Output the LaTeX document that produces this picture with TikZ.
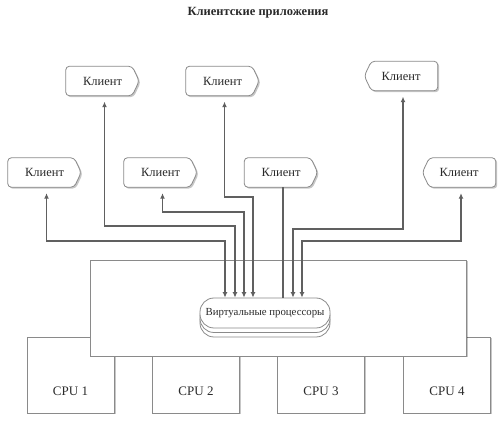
\documentclass[tikz,border=0pt]{standalone}
\usepackage{fontspec}
\setmainfont{Liberation Serif}
\usetikzlibrary{arrows.meta,shadows,calc}
\pgfdeclarelayer{background}
\pgfsetlayers{background,main}
\definecolor{edge}{HTML}{606060}
\definecolor{boxline}{HTML}{8A8A8A}
\definecolor{txt}{HTML}{2A2A2A}
\tikzset{
  softshadow/.style={drop shadow={shadow xshift=1.5pt,shadow yshift=-1.5pt,opacity=0.22,fill=black}},
  client/.style={minimum width=73pt,minimum height=29pt,inner sep=0pt,text=txt,
    font=\fontsize{12.5}{14}\selectfont},
  clientbox/.style={draw=boxline,line width=0.8pt,fill=white,rounded corners=3.5pt,softshadow},
  conn/.style={draw=edge,line width=1.7pt},
  biconn/.style={conn,{Latex[length=5.5pt,width=5pt]}-{Latex[length=5.5pt,width=5pt]},shorten <=6pt},
  cpubox/.style={draw=boxline,line width=0.8pt,fill=white,minimum width=87pt,minimum height=76pt,
    inner sep=0pt,softshadow},
  cpulabel/.style={font=\fontsize{13}{15}\selectfont,text=txt,yshift=-16pt},
  hostbox/.style={draw=boxline,line width=0.8pt,fill=white,minimum width=376pt,minimum height=96pt,
    inner sep=0pt,softshadow},
  vproc/.style={draw=boxline,line width=0.8pt,fill=white,rounded corners=14pt,minimum width=130pt,
    minimum height=30pt,inner sep=0pt,text=txt,font=\fontsize{10.8}{12}\selectfont,
    double copy shadow={shadow xshift=0pt,shadow yshift=-4.5pt}},
  titlestyle/.style={font=\bfseries\fontsize{12.5}{14}\selectfont,text=txt}
}
\newcommand\clientR[3]{%
  \node[client] (#1) at (#2,#3) {Клиент};
  \begin{pgfonlayer}{background}
  \draw[clientbox] (#1.north) -- (#1.north west) -- (#1.south west) -- ([xshift=-7pt]#1.south east)
    -- (#1.east) -- ([xshift=-7pt]#1.north east) -- cycle;
  \end{pgfonlayer}}
\newcommand\clientL[3]{%
  \node[client] (#1) at (#2,#3) {Клиент};
  \begin{pgfonlayer}{background}
  \draw[clientbox] (#1.north) -- (#1.north east) -- (#1.south east) -- ([xshift=7pt]#1.south west)
    -- (#1.west) -- ([xshift=7pt]#1.north west) -- cycle;
  \end{pgfonlayer}}
\begin{document}
\begin{tikzpicture}[x=1pt,y=-1pt]
\useasboundingbox (0,0) rectangle (501,427);

\node[titlestyle] (title) at (258,13) {Клиентские приложения};

% clients
\clientR{C1}{102.5}{81}
\clientR{C2}{222.5}{81}
\clientL{C3}{401}{76}
\clientR{C4}{44.5}{172.5}
\clientR{C5}{160.5}{172.5}
\clientR{C6}{281}{172.5}
\clientL{C7}{459}{172.5}

% CPUs
\node[cpubox,label={[cpulabel]center:CPU 1}] (cpu1) at (70.5,375) {};
\node[cpubox,label={[cpulabel]center:CPU 2}] (cpu2) at (196,375) {};
\node[cpubox,label={[cpulabel]center:CPU 3}] (cpu3) at (321,375) {};
\node[cpubox,label={[cpulabel]center:CPU 4}] (cpu4) at (447,375) {};

% host
\node[hostbox] (host) at (278,308) {};

% virtual processors
\node[vproc] (vp) at (265,313) {Виртуальные процессоры};

% turning points
\coordinate (k4) at (225,241);
\coordinate (k1) at (235,226);
\coordinate (k5) at (244,212);
\coordinate (k2) at (253,197);
\coordinate (k6) at (283,260);
\coordinate (k3) at (293,229);
\coordinate (k7) at (302,241);

\draw[biconn] ([xshift=2pt]C4.south) |- (k4) -- (k4 |- vp.north);
\draw[biconn] ([xshift=2pt]C1.south) |- (k1) -- (k1 |- vp.north);
\draw[biconn] ([xshift=2pt]C5.south) |- (k5) -- (k5 |- vp.north);
\draw[biconn] ([xshift=2pt]C2.south) |- (k2) -- (k2 |- vp.north);
\draw[conn] (k6 |- C6.south) -- (k6 |- vp.north);
\draw[biconn] ([xshift=2pt]C3.south) |- (k3) -- (k3 |- vp.north);
\draw[biconn] ([xshift=2pt]C7.south) |- (k7) -- (k7 |- vp.north);
\end{tikzpicture}
\end{document}
